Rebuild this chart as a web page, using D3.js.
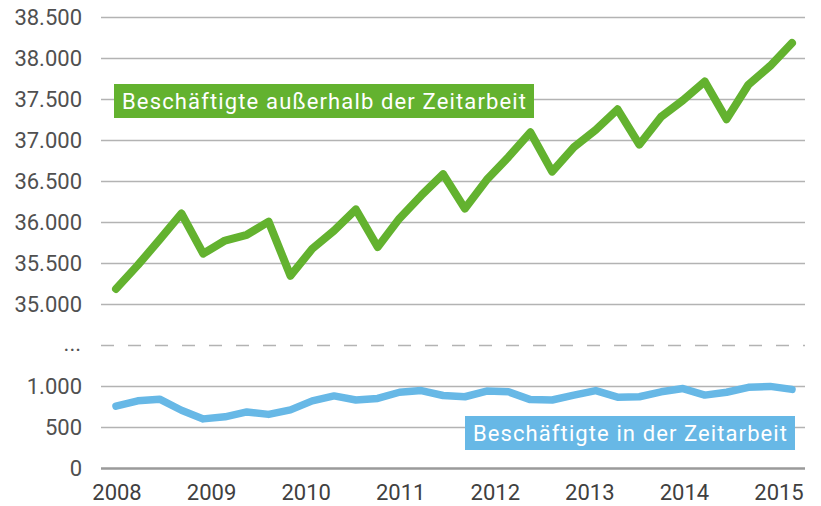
<!DOCTYPE html>
<html>
<head>
<meta charset="utf-8">
<script src="https://cdn.jsdelivr.net/npm/d3@7"></script>
<style>
  body { margin: 0; background: #fff; }
  text { font-family: Roboto, "DejaVu Sans", sans-serif; }
</style>
</head>
<body>
<script>
// Beschäftigte, quarterly values (in thousands) 2008 - 2015
var years = [2008, 2009, 2010, 2011, 2012, 2013, 2014, 2015];
var outside = [35190, 35480, 35790, 36110, 35620, 35780, 35850, 36010, 35350, 35680, 35900, 36160,
               35700, 36050, 36330, 36590, 36170, 36520, 36800, 37100, 36620, 36920, 37130, 37380,
               36950, 37290, 37490, 37720, 37260, 37680, 37910, 38190];
var temp = [760, 825, 845, 710, 605, 630, 690, 660, 715, 825, 885, 835, 855, 930, 950, 890,
            875, 945, 935, 840, 835, 895, 950, 870, 875, 935, 975, 895, 930, 990, 1040, 965];
var topTicks = [35000, 35500, 36000, 36500, 37000, 37500, 38000, 38500];
var bottomTicks = [500, 1000];
var labelOutside = "Beschäftigte außerhalb der Zeitarbeit";
var labelTemp = "Beschäftigte in der Zeitarbeit";

function init(){
    var w = 821, h = 506;
    var green = "#63b22f", blue = "#67b8e6";

    var svg = d3.select("body").append("svg")
        .attr("width", w)
        .attr("height", h);

    // broken y scale: 1.000 -> 35.000 squeezed into two steps
    var y = d3.scaleLinear()
        .domain([0, 1000, 35000, 38500])
        .range([468.5, 386.5, 304.5, 17.5]);
    var x = d3.scaleLinear().domain([0, outside.length - 1]).range([116, 792]);
    var xYear = d3.scaleLinear().domain([2008, 2015]).range([117, 779]);

    var fmt = function(v){ return d3.format(",")(v).replace(/,/g, "."); };

    var grid = svg.append("g");
    grid.selectAll("line.grid")
        .data(topTicks.concat(bottomTicks))
        .enter().append("line")
        .attr("x1", 101).attr("x2", 805)
        .attr("y1", function(d){ return y(d); })
        .attr("y2", function(d){ return y(d); })
        .attr("stroke", "#b3b3b3")
        .attr("stroke-width", 1.5);

    // break line
    var yBreak = (y(1000) + y(35000)) / 2;
    grid.append("line")
        .attr("x1", 101).attr("x2", 805)
        .attr("y1", yBreak).attr("y2", yBreak)
        .attr("stroke", "#b3b3b3")
        .attr("stroke-width", 1.5)
        .attr("stroke-dasharray", "13,14");

    // base line
    grid.append("line")
        .attr("x1", 101).attr("x2", 805)
        .attr("y1", y(0)).attr("y2", y(0))
        .attr("stroke", "#9a9a9a")
        .attr("stroke-width", 2.5);

    // y labels
    svg.selectAll("text.ytick")
        .data([0].concat(bottomTicks, topTicks))
        .enter().append("text")
        .attr("class", "ytick")
        .attr("x", 82)
        .attr("y", function(d){ return y(d); })
        .attr("dy", "0.35em")
        .attr("text-anchor", "end")
        .attr("font-size", 22)
        .attr("fill", "#505050")
        .text(fmt);
    svg.append("text")
        .attr("x", 81).attr("y", yBreak - 2)
        .attr("dy", "0.35em")
        .attr("text-anchor", "end")
        .attr("font-size", 22)
        .attr("fill", "#505050")
        .text("...");

    // x labels
    svg.selectAll("text.xtick")
        .data(years)
        .enter().append("text")
        .attr("x", function(d){ return xYear(d); })
        .attr("y", 500)
        .attr("text-anchor", "middle")
        .attr("font-size", 22)
        .attr("fill", "#404040")
        .text(function(d){ return d; });

    var line = d3.line()
        .x(function(d, i){ return x(i); })
        .y(function(d){ return y(d); });

    svg.append("path")
        .datum(temp)
        .attr("d", line)
        .attr("fill", "none")
        .attr("stroke", blue)
        .attr("stroke-width", 7.5)
        .attr("stroke-linejoin", "round")
        .attr("stroke-linecap", "round");

    svg.append("path")
        .datum(outside)
        .attr("d", line)
        .attr("fill", "none")
        .attr("stroke", green)
        .attr("stroke-width", 8)
        .attr("stroke-linejoin", "round")
        .attr("stroke-linecap", "round");

    // labels with coloured boxes
    function tag(txt, x0, x1, yMid, col){
        var g = svg.append("g");
        g.append("rect").attr("fill", col)
            .attr("x", x0).attr("y", yMid - 17)
            .attr("width", x1 - x0).attr("height", 34);
        g.append("text")
            .attr("x", x0 + 8).attr("y", yMid)
            .attr("dy", "0.36em")
            .attr("font-size", 22)
            .attr("textLength", x1 - x0 - 16)
            .attr("lengthAdjust", "spacing")
            .attr("fill", "#fff")
            .text(txt);
    }
    tag(labelOutside, 114, 534, 101, green);
    tag(labelTemp, 465, 795, 433, blue);
}
window.onload = init;
</script>
</body>
</html>
